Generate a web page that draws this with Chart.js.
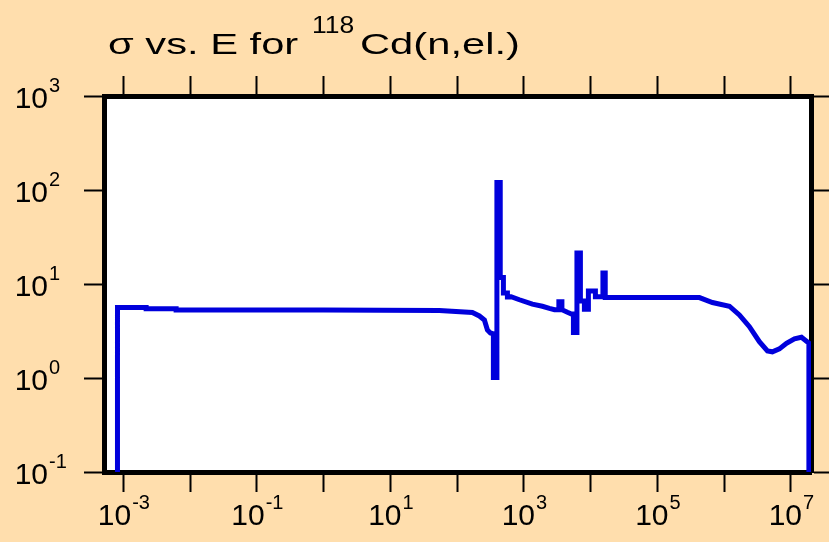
<!DOCTYPE html>
<html>
<head>
<meta charset="utf-8">
<script src="https://cdn.jsdelivr.net/npm/chart.js@4.4.0/dist/chart.umd.min.js"></script>
<style>
  html, body { margin: 0; padding: 0; background: #FFDEAD; }
  #wrap { width: 829px; height: 542px; }
</style>
</head>
<body>
<div id="wrap"><canvas id="xsChart" width="829" height="542"></canvas></div>
<script>
// incident neutron energy (eV) and elastic cross section (b)
const energy = [
    8.15e-4, 8.15e-4, 2.19e-3, 2.19e-3, 6.16e-3, 6.16e-3, 1.0, 54,
    169, 215, 256, 284, 315, 349, 349, 394, 394, 442, 442, 493, 493, 566, 566,
    643, 857, 1340, 1890, 2410, 2870, 3340, 3340, 3710, 3710, 4490, 5150,
    5520, 5520, 6230, 6230, 7020, 7020, 8060, 8060, 9250, 9250, 11780, 11780,
    15270, 15270, 16530, 16530, 53700,
    4.26e5, 6.67e5, 1.2e6, 1.69e6, 2.39e6, 3.37e6, 4.45e6, 5.28e6, 6.73e6,
    8.58e6, 1.13e7, 1.44e7, 1.77e7, 1.86e7, 1.86e7
];
const sigma = [
    0.001, 5.62, 5.62, 5.45, 5.45, 5.3, 5.28, 5.22,
    4.98, 4.57, 4.14, 3.24, 3.01, 2.95, 1.01, 1.01, 120, 120, 11.7, 11.7, 8.0, 8.0, 7.3,
    7.33, 6.8, 6.1, 5.8, 5.5, 5.33, 5.33, 6.47, 6.47, 5.33, 5.0, 4.8,
    4.8, 3.05, 3.05, 21.4, 21.4, 6.6, 6.6, 5.4, 5.4, 8.4, 8.4, 7.3,
    7.3, 13.1, 13.1, 7.2, 7.2, 7.17,
    6.36, 5.8, 4.68, 3.51, 2.43, 1.94, 1.9, 2.04, 2.34,
    2.61, 2.71, 2.42, 2.35, 0.001
];

// decade ticks
const xTickExps = [-3, -2, -1, 0, 1, 2, 3, 4, 5, 6, 7];
const xLabelExps = [-3, -1, 1, 3, 5, 7];
const yTickExps = [-1, 0, 1, 2, 3];

const BG = '#FFDEAD';
const FONT = '"Liberation Sans", Arial, Helvetica, sans-serif';

const decadeTicks = exps => scale => {
    scale.ticks = exps.map(e => ({ value: Math.pow(10, e) }));
};

function axisOpts(position, exps, size) {
    return {
        type: 'logarithmic',
        position: position,
        afterBuildTicks: decadeTicks(exps),
        afterFit: scale => {
            if (position === 'left' || position === 'right') scale.width = size;
            else scale.height = size;
        },
        ticks: { display: false, autoSkip: false },
        grid: {
            drawOnChartArea: false,
            drawTicks: true,
            tickLength: 20,
            tickWidth: 2,
            tickColor: '#000'
        },
        border: { display: true, color: '#000', width: 5 }
    };
}

// page background + white plot area
const backdrop = {
    id: 'backdrop',
    beforeDraw(chart) {
        const { ctx, chartArea: a } = chart;
        ctx.save();
        ctx.fillStyle = BG;
        ctx.fillRect(0, 0, chart.width, chart.height);
        ctx.fillStyle = '#fff';
        ctx.fillRect(a.left, a.top, a.right - a.left, a.bottom - a.top);
        ctx.restore();
    }
};

// title text is wider than plain Arial in the original
function stretchedText(ctx, text, x, y, size, sx) {
    ctx.save();
    ctx.translate(x, y);
    ctx.scale(sx, 1);
    ctx.font = size + 'px ' + FONT;
    ctx.fillText(text, 0, 0);
    ctx.restore();
}

// title and power-of-ten labels with superscripts
const labels = {
    id: 'labels',
    afterDraw(chart) {
        const ctx = chart.ctx;
        const xs = chart.scales.x, ys = chart.scales.y;
        ctx.save();
        ctx.fillStyle = '#000';
        ctx.textBaseline = 'alphabetic';
        ctx.textAlign = 'left';

        // title
        stretchedText(ctx, '\u03C3 vs. E for', 108, 54, 30, 1.39);
        stretchedText(ctx, '118', 312, 33, 23, 1.15);
        stretchedText(ctx, 'Cd(n,el.)', 360, 54, 30, 1.39);

        // y labels
        yTickExps.forEach(e => {
            const py = ys.getPixelForValue(Math.pow(10, e));
            ctx.font = '30px ' + FONT;
            ctx.textAlign = 'right';
            ctx.fillText('10', 48, py + 12);
            ctx.font = '20px ' + FONT;
            ctx.textAlign = 'left';
            ctx.fillText(String(e), 49, py - 4);
        });

        // x labels
        xLabelExps.forEach(e => {
            const px = xs.getPixelForValue(Math.pow(10, e));
            ctx.font = '30px ' + FONT;
            const w1 = ctx.measureText('10').width;
            ctx.font = '20px ' + FONT;
            const w2 = ctx.measureText(String(e)).width;
            const x0 = px - (w1 + w2) / 2;
            ctx.textAlign = 'left';
            ctx.font = '30px ' + FONT;
            ctx.fillText('10', x0, 525);
            ctx.font = '20px ' + FONT;
            ctx.fillText(String(e), x0 + w1 + 1, 509);
        });
        ctx.restore();
    }
};

const points = energy.map((e, i) => ({ x: e, y: sigma[i] }));

new Chart(document.getElementById('xsChart'), {
    type: 'line',
    data: {
        datasets: [{
            data: points,
            borderColor: '#0000DC',
            borderWidth: 5,
            pointRadius: 0,
            tension: 0,
            borderJoinStyle: 'miter',
            borderCapStyle: 'butt',
            fill: false
        }]
    },
    options: {
        responsive: false,
        animation: false,
        devicePixelRatio: 1,
        layout: { padding: 0 },
        plugins: {
            legend: { display: false },
            title: { display: false },
            tooltip: { enabled: false }
        },
        scales: {
            x: Object.assign(axisOpts('bottom', xTickExps, 70), { min: 5.12e-4, max: 2.0e7 }),
            x2: Object.assign(axisOpts('top', xTickExps, 96), { min: 5.12e-4, max: 2.0e7 }),
            y: Object.assign(axisOpts('left', yTickExps, 104), { min: 0.1, max: 1000 }),
            y2: Object.assign(axisOpts('right', yTickExps, 18), { min: 0.1, max: 1000 })
        }
    },
    plugins: [backdrop, labels]
});
</script>
</body>
</html>
